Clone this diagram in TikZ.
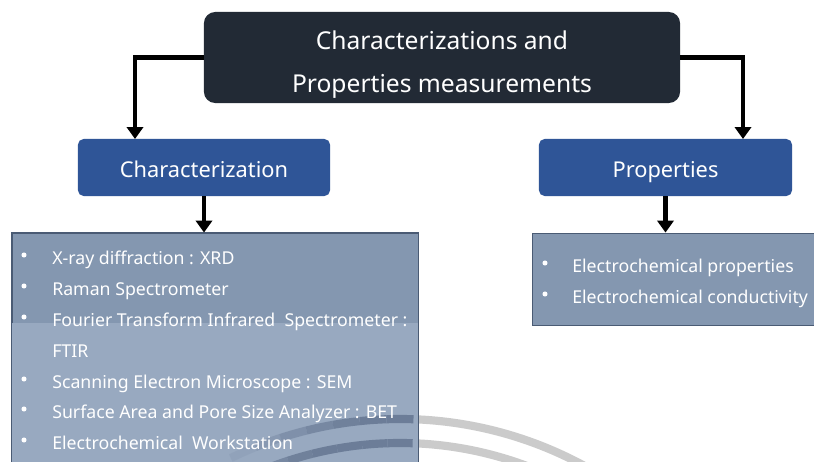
\documentclass[tikz,border=0pt]{standalone}
\usepackage{fontspec}
\setmainfont{Noto Sans}
\usetikzlibrary{arrows.meta}

\definecolor{rootnavy}{HTML}{222A35}
\definecolor{boxblue}{HTML}{2F5597}
\definecolor{listtop}{HTML}{8497B0}
\definecolor{listlow}{HTML}{98A9C0}
\definecolor{listedge}{HTML}{4A5B74}
\definecolor{arcgray}{HTML}{CBCBCB}
\definecolor{arcdark}{HTML}{6C7D98}

\tikzset{
  rootbox/.style={fill=rootnavy, rounded corners=8pt, text=white, minimum width=11.9cm,
    minimum height=2.275cm, inner sep=0pt, align=center, font=\fontsize{17.5}{30.6}\selectfont},
  headbox/.style={fill=boxblue, rounded corners=4pt, text=white, minimum height=1.425cm,
    inner sep=0pt, text height=17.9pt, text depth=3pt, font=\fontsize{15.5}{18}\selectfont},
  listbox/.style={draw=listedge, line width=0.6pt, fill=listtop, inner sep=0pt},
  itemtext/.style={anchor=base west, text=white, inner sep=0pt, font=\fontsize{12.6}{15}\selectfont},
  arr/.style={line width=3.5pt, -{Triangle[width=11.5pt,length=8.5pt]}},
  swoosh/.style={line width=5.8pt, arcgray},
}

\begin{document}
\begin{tikzpicture}[x=0.025cm,y=-0.025cm]
  \clip (0,0) rectangle (814,461);
  \fill[white] (0,0) rectangle (814,461);
  % background swooshes
  \draw[swoosh] ([shift={(400,805)}]-90:386) arc[start angle=-90, end angle=-30, radius=386];
  \draw[swoosh] ([shift={(400,805)}]-90:362) arc[start angle=-90, end angle=-30, radius=362];

  \node[rootbox] (root) at (442,57.5) {\rule{0pt}{23.3pt}Characterizations and\\Properties measurements};
  \node[headbox, minimum width=6.3cm] (charbox) at (204,167.5) {Characterization};
  \node[headbox, minimum width=6.325cm] (propbox) at (665.5,167.5) {Properties};

  \node[listbox, minimum width=10.15cm, minimum height=6.05cm] (charlist) at (215,354) {};
  \fill[listlow] (12.4,323) rectangle (417.6,475);
  \begin{scope}
    \clip (12,233) rectangle (418,475);
    % swooshes seen through the box, fading out to the left
    \foreach \a/\o in {-116/0.15, -112/0.35, -108/0.55, -104/0.75, -100/0.9, -96/1, -92/1} {
      \draw[swoosh, arcdark, opacity=\o] ([shift={(400,805)}]\a:386) arc[start angle=\a, end angle=\a+4, radius=386];
    }
    \foreach \a/\o in {-124/0.15, -120/0.35, -116/0.55, -112/0.75, -108/0.9, -104/1, -100/1, -96/1, -92/1} {
      \draw[swoosh, arcdark, opacity=\o] ([shift={(400,805)}]\a:362) arc[start angle=\a, end angle=\a+4, radius=362];
    }
  \end{scope}
  \draw[listedge, line width=0.6pt] (charlist.north west) rectangle (charlist.south east);
  \node[listbox, minimum width=7.45cm, minimum height=2.3cm] (proplist) at (681,279) {};

  % arrows
  \coordinate (chartip) at (135,139);
  \coordinate (proptip) at (743,139);
  \draw[arr] (root.west) -| (chartip);
  \draw[arr] (root.east) -| (proptip);
  \draw[arr] (charbox.south) -- (charbox.south |- charlist.north);
  \draw[arr] (propbox.south) -- (propbox.south |- proplist.north);

  % items
  \foreach \y/\t in {258/X-ray diffraction : XRD, 289/Raman Spectrometer,
      320/Fourier Transform Infrared\ \ Spectrometer :, 382/Scanning Electron Microscope : SEM,
      412/Surface Area and Pore Size Analyzer : BET, 443/Electrochemical\ \ Workstation} {
    \fill[white] (24,\y-3) circle (1.8pt);
    \node[itemtext] (citem\y) at (52,\y+6) {\t};
  }
  \node[itemtext] (ftir) at (52,357) {FTIR};
  \foreach \y/\t in {266/Electrochemical properties, 297/Electrochemical conductivity} {
    \fill[white] (545,\y-3) circle (1.8pt);
    \node[itemtext] (pitem\y) at (572,\y+6) {\t};
  }
\end{tikzpicture}
\end{document}
